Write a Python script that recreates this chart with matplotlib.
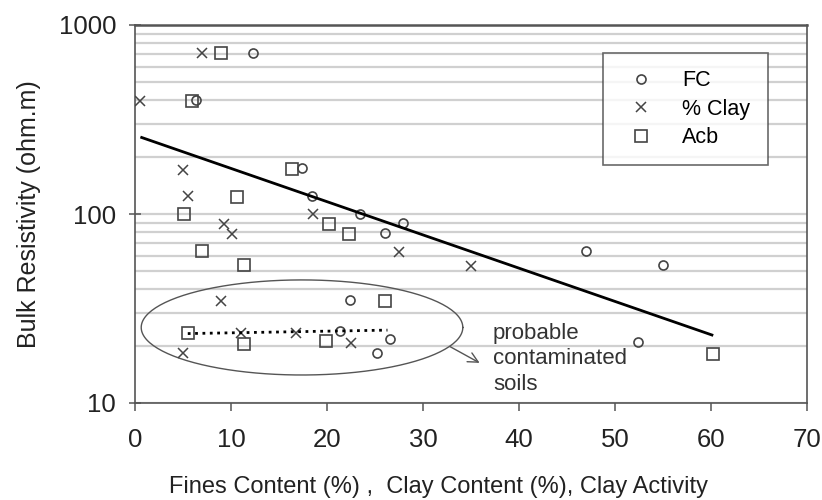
import numpy as np
import matplotlib.pyplot as plt
from matplotlib.ticker import LogLocator, NullFormatter

plt.rcParams['font.family'] = ['Liberation Sans', 'DejaVu Sans']

# Fines content (FC)
fc_x = [12.3, 6.4, 17.4, 18.4, 23.4, 27.9, 26.0, 22.4, 21.4, 26.6, 25.2, 47.0, 55.0, 52.4]
fc_y = [710, 400, 175, 124, 100, 90, 79, 35, 24, 21.7, 18.3, 64, 54, 21]

# Clay content (% Clay)
clay_x = [7.0, 0.5, 5.0, 5.5, 18.5, 9.3, 10.1, 27.5, 35.0, 9.0, 11.0, 16.8, 22.5, 5.0]
clay_y = [710, 395, 171, 124, 100, 89, 78, 63, 53, 34.5, 23.5, 23.5, 20.7, 18.4]

# Clay activity (Acb)
acb_x = [9.0, 5.9, 16.4, 10.6, 5.1, 7.0, 11.4, 20.2, 22.3, 26.0, 5.5, 11.4, 19.9, 60.2]
acb_y = [710, 395, 172, 123, 100, 63.5, 53.5, 89, 78, 34.5, 23.5, 20.6, 21.3, 18.2]

# trend lines (end points)
trend_x = [0.7, 60.1]
trend_y = [254, 22.9]
cont_x = [5.5, 26.3]
cont_y = [23.3, 24.3]

fig = plt.figure(figsize=(8.22, 5), dpi=100)
ax = fig.add_axes([0.1642, 0.194, 0.8175, 0.756])
ax.set_yscale('log')
ax.set_xlim(0, 70)
ax.set_ylim(10, 1000)

ax.yaxis.set_minor_locator(LogLocator(base=10, subs=np.arange(2, 10)))
ax.yaxis.set_minor_formatter(NullFormatter())
ax.grid(True, axis='y', which='both', color='#d0d0d0', linewidth=1.6, zorder=0)

edge = '#444444'
ax.plot(fc_x, fc_y, 'o', ms=6.5, mfc='none', mec=edge, mew=1.2, label='FC', zorder=3)
ax.plot(clay_x, clay_y, 'x', ms=7, mec=edge, mew=1.1, label='% Clay', zorder=3)
ax.plot(acb_x, acb_y, 's', ms=8, mfc='none', mec=edge, mew=1.2, label='Acb', zorder=3)

ax.plot(trend_x, trend_y, '-', color='black', lw=2.0, zorder=4)
ax.plot(cont_x, cont_y, ':', color='black', lw=2.0, zorder=4)

# ellipse around contaminated soils (drawn in log space)
t = np.linspace(0, 2 * np.pi, 200)
ex = 17.4 + 16.75 * np.cos(t)
ey = 10 ** (np.log10(25.1) + 0.2515 * np.sin(t))
ax.plot(ex, ey, '-', color='#555555', lw=1.0, zorder=2)
ax.annotate('', xy=(35.9, 16.3), xytext=(32.8, 19.9),
            arrowprops=dict(arrowstyle='->', color='#555555', lw=1.0,
                            mutation_scale=18, shrinkA=0, shrinkB=0))
ax.text(37.3, 26.5, 'probable\ncontaminated\nsoils', fontsize=16, color='#333333',
        ha='left', va='top', linespacing=1.28)

ax.set_xticks(range(0, 71, 10))
ax.set_yticks([10, 100, 1000], labels=['10', '100', '1000'])
ax.tick_params(axis='both', which='major', labelsize=18.5, colors='#222222')
ax.tick_params(axis='x', direction='out', length=6, width=1.1, color='#555555', pad=12)
ax.tick_params(axis='y', direction='inout', length=9, width=1.1, color='#555555', pad=9)
ax.tick_params(axis='y', which='minor', length=0)
for s in ax.spines.values():
    s.set_color('#555555')
    s.set_linewidth(1.2)
ax.spines['top'].set_linewidth(1.8)

ax.set_xlabel('Fines Content (%) ,  Clay Content (%), Clay Activity', fontsize=17, color='#222222')
ax.xaxis.set_label_coords(0.451, -0.193)
ax.set_ylabel('Bulk Resistivity (ohm.m)', fontsize=18, color='#222222')
ax.yaxis.set_label_coords(-0.14, 0.5)

leg = ax.legend(loc='upper left', bbox_to_anchor=(0.696, 0.926), fontsize=15.5,
                frameon=True, fancybox=False, borderpad=0.8, handlelength=2.0,
                handletextpad=0.9, labelspacing=0.35, borderaxespad=0)
leg.get_frame().set_edgecolor('#444444')
leg.get_frame().set_linewidth(1.2)
leg.set_zorder(5)

fig.savefig('out.png', dpi=100)
